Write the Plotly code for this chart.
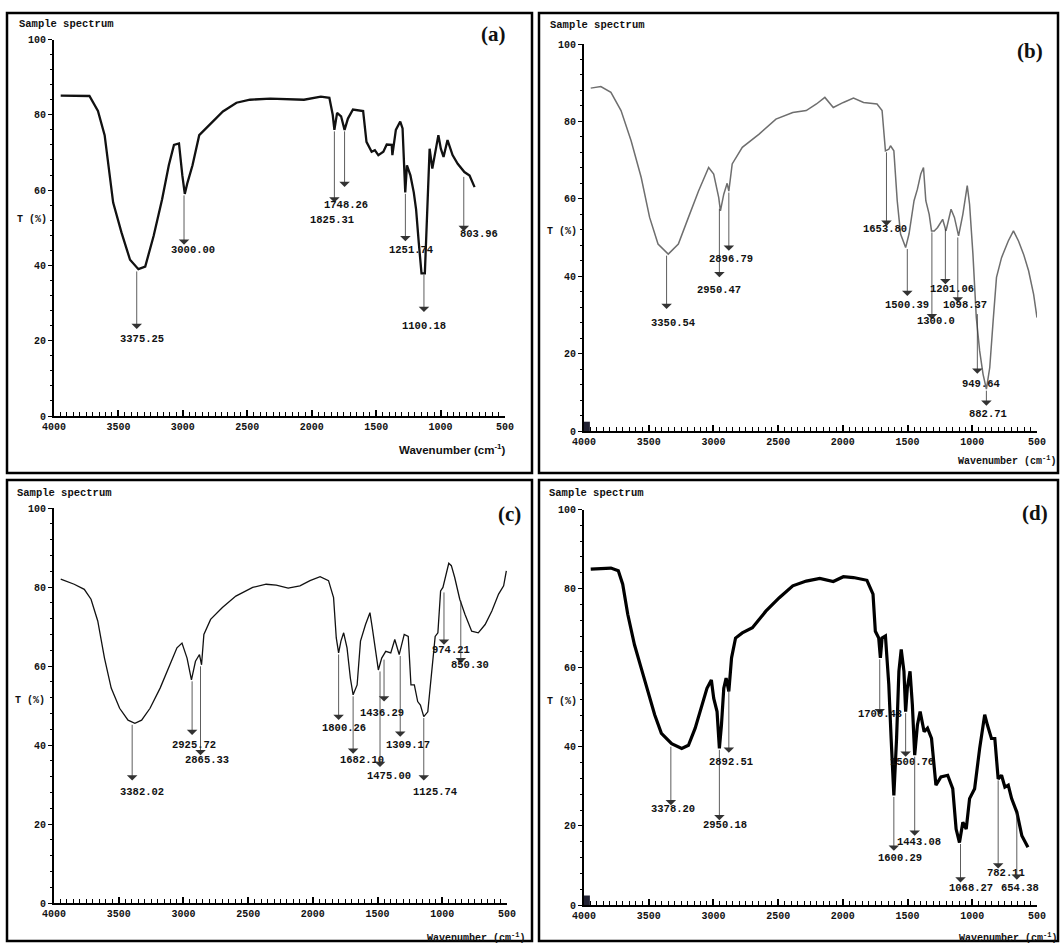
import plotly.graph_objects as go

W, H = 1060, 943

# ---------------- data ----------------
a_wn = [3948,3725,3659,3607,3541,3476,3410,3345,3292,3227,3161,3109,3069,3030,3004,2985,2964,2925,2873,2794,
        2689,2584,2479,2322,2060,1929,1863,1837,1824,1803,1772,1745,1719,1680,1601,1575,1535,1510,1483,1444,
        1418,1379,1374,1347,1313,1295,1274,1261,1234,1208,1190,1169,1148,1122,1103,1085,1064,1038,1017,998,
        977,946,907,867,815,775,736]
a_T = [85.1,85,81,74.6,56.7,48.7,41.5,39.0,39.7,47.8,57.6,66.6,72,72.4,63.9,59,62,66.6,74.6,77.3,
       80.9,83.2,84,84.3,84,84.8,84.5,80,76,80.5,79.6,76,79,81.4,81,72.8,70.2,70.6,69.3,70.2,
       72.1,72,69.3,76,78.2,76.4,59.4,66.6,63.9,59.4,54.9,46,37.9,37.9,56.7,71,65.7,71,74.6,71,
       68.8,73.3,69.3,67,64.8,63.9,60.8]

b_wn = [3948,3870,3792,3714,3636,3558,3493,3428,3349,3271,3193,3115,3037,2998,2959,2946,2920,2894,2881,2855,
        2777,2647,2517,2387,2283,2204,2139,2074,1996,1918,1840,1736,1697,1671,1645,1632,1606,1580,1554,1515,
        1489,1450,1424,1398,1377,1359,1333,1315,1294,1268,1229,1203,1164,1138,1106,1073,1039,1021,995,969,
        943,917,891,865,839,813,774,722,682,643,604,565,526,500]
b_T = [88.6,89,87.5,82.8,75,65.5,55.2,48.3,45.7,48.3,55.2,62,68.1,66.4,60.3,56.9,61.2,64,62,69,
       73.3,76.7,80.6,82.3,82.8,84.5,86.2,83.6,84.9,86,84.9,84.5,82.8,72.4,72.8,73.7,72.4,59.5,50.9,47.4,
       50.9,59.5,62.5,66.4,68.1,59.5,56,51.7,51.7,52.6,54.7,51.7,57.3,55.2,50.4,56,63.4,58.6,45.7,29.3,
       20.7,14.7,10.8,16.4,28.4,39.7,44.8,49.1,51.7,49.1,45.7,41.4,35.3,29.3]

c_wn = [3948,3844,3766,3714,3662,3610,3558,3493,3428,3375,3323,3258,3180,3115,3050,3011,2972,2938,2907,2876,
        2860,2842,2790,2699,2595,2465,2361,2283,2191,2100,2022,1944,1879,1840,1819,1801,1783,1762,1736,1710,
        1689,1658,1632,1593,1559,1541,1515,1494,1468,1437,1398,1367,1333,1294,1263,1242,1216,1190,1169,1143,
        1112,1073,1055,1034,1013,995,977,950,930,904,865,825,773,722,669,617,565,526,505]
c_T = [82,80.7,79.4,76.9,71.4,62,54.4,49.3,46.3,45.5,46.3,49.3,54.4,59.5,64.6,65.8,62,56.5,61.2,62.9,
       60.3,68,71.8,74.8,77.7,79.9,80.7,80.5,79.7,80.3,81.6,82.6,81.6,77.3,67.1,63.3,66.3,68.4,64.6,56.9,
       52.7,55.2,66.3,70.5,73.5,69.7,63.7,59,62,63.7,63.3,66.7,62.9,68,67.5,55.2,55.2,51,50.1,47.2,
       48.4,60.3,67.5,68.4,79,79.9,82.4,86,85.4,82.4,76.9,73.1,68.8,68.4,70.5,73.9,78.2,80.3,84.1]

d_wn = [3948,3792,3735,3701,3662,3610,3558,3506,3454,3402,3323,3245,3193,3141,3089,3050,3016,2998,2972,2954,
        2938,2920,2902,2881,2860,2829,2777,2699,2595,2491,2387,2283,2178,2074,1996,1918,1814,1767,1749,1723,
        1710,1697,1671,1645,1627,1606,1585,1567,1549,1528,1515,1502,1481,1463,1445,1424,1403,1372,1346,1315,
        1281,1242,1190,1151,1125,1099,1073,1047,1021,982,943,904,883,852,826,800,774,748,722,696,
        656,617,570]
d_T = [84.9,85.2,84.5,81.1,73.5,65.8,59.9,54,48.1,43.4,40.8,39.6,40.4,44.7,50.6,54.8,56.9,52.3,48.9,39.6,
       45.5,54.8,57.4,54,62.5,67.5,68.8,70.1,74.3,77.7,80.7,81.9,82.6,81.8,83,82.8,82.1,78.6,69.2,67.5,
       62.5,67.5,68,55.7,42.1,27.7,42.1,59.1,64.6,59.1,48.9,54.8,59.1,50.6,37.9,45.5,48.9,43.8,44.7,42.1,
       30.3,32.4,32.8,29.4,19.2,15.8,20.9,19.2,26.9,29.4,39.6,48.1,45.5,42.1,42.1,31.9,32.8,29.8,30.3,26.9,
       23.5,17.5,14.6]

# peak labels: text, arrow wavenumber, arrow tail T (on curve), arrow head T, label wavenumber, label T
a_lab = ["3375.25","3000.00","1825.31","1748.26","1251.74","1100.18","803.96"]
a_arx = [3358, 2991, 1824, 1745, 1273, 1129, 820]
a_tail = [38.8, 59, 76, 76, 59.4, 37.9, 63.9]
a_head = [23.1, 45.5, 56.7, 60.8, 46.4, 27.6, 49.1]
a_lx = [3318, 2920, 1842, 1732, 1229, 1129, 702]
a_ly = [20.4, 44, 52, 56, 44, 24, 48.4]

b_lab = ["3350.54","2950.47","2896.79","1653.80","1500.39","1300.0","1201.06","1098.37","949.64","882.71"]
b_arx = [3362, 2954, 2881, 1663, 1502, 1312, 1208, 1112, 961, 891]
b_tail = [45.7, 57.8, 62, 72.4, 47.4, 51.7, 52.6, 50.4, 30.6, 10.8]
b_head = [31.5, 39.7, 46.6, 53, 34.9, 28.9, 37.9, 33.2, 14.8, 6.5]
b_lx = [3310, 2954, 2863, 1671, 1502, 1281, 1156, 1060, 929, 877]
b_ly = [28, 36.4, 44.4, 52.3, 32.6, 28.3, 36.6, 32.6, 12.2, 4.3]

c_lab = ["3382.02","2925.72","2865.33","1800.26","1682.10","1475.00","1436.29","1309.17","1125.74","974.21","850.30"]
c_arx = [3396, 2933, 2868, 1801, 1689, 1481, 1450, 1325, 1143, 987, 857]
c_tail = [45.5, 56.5, 60.3, 63.3, 52.7, 59, 62, 62.9, 47.2, 79, 76.9]
c_head = [31, 42.5, 37.4, 46.3, 37.8, 34.4, 51, 42.1, 31, 65.4, 60.7]
c_lx = [3323, 2920, 2821, 1762, 1619, 1411, 1463, 1263, 1060, 930, 787]
c_ly = [28.2, 40, 36.1, 44.2, 36.1, 32.1, 48, 40, 28.2, 64, 60.2]

d_lab = ["3378.20","2950.18","2892.51","1700.43","1600.29","1500.76","1443.08","1068.27","782.11","654.38"]
d_arx = [3329, 2954, 2881, 1715, 1606, 1515, 1445, 1091, 800, 656]
d_tail = [40.4, 39.6, 54.8, 62.5, 27.7, 48.9, 37.9, 15.8, 31.9, 23.5]
d_head = [25.2, 21.4, 38.5, 48.2, 13.7, 37.5, 17.5, 5.7, 9.2, 6.4]
d_lx = [3310, 2912, 2863, 1710, 1559, 1463, 1411, 1007, 740, 630]
d_ly = [24.2, 20.3, 36.2, 48.2, 12, 36.2, 16, 4.2, 8.2, 4.2]

panel_tags = ["(a)", "(b)", "(c)", "(d)"]
x_ticks = [4000, 3500, 3000, 2500, 2000, 1500, 1000, 500]
y_ticks = [0, 20, 40, 60, 80, 100]

# ---------------- layout geometry (pixels) ----------------
def fx(px):
    return px / W

def fy(py):
    return 1 - py / H

panels = [
    dict(wn=a_wn, T=a_T, color="#111111", lw=2.3, lab=a_lab, arx=a_arx, tail=a_tail, head=a_head, lx=a_lx, ly=a_ly,
         xd=[fx(54), fx(505)], yd=[fy(416), fy(39.5)], frame=(7, 13, 532, 473),
         title=(17, 24), tlab=(15, 220), tag=(493, 34), wnl=(508, 449), narrow=True, square=False),
    dict(wn=b_wn, T=b_T, color="#6e6e6e", lw=1.5, lab=b_lab, arx=b_arx, tail=b_tail, head=b_head, lx=b_lx, ly=b_ly,
         xd=[fx(584), fx(1037)], yd=[fy(431), fy(44)], frame=(539, 13, 1058, 473),
         title=(548, 25), tlab=(545, 231), tag=(1030, 51), wnl=(1058, 460), narrow=False, square=True),
    dict(wn=c_wn, T=c_T, color="#111111", lw=1.3, lab=c_lab, arx=c_arx, tail=c_tail, head=c_head, lx=c_lx, ly=c_ly,
         xd=[fx(54), fx(507)], yd=[fy(903), fy(508)], frame=(7, 480, 532, 941),
         title=(15, 493), tlab=(13, 700), tag=(509, 514), wnl=(527, 937), narrow=False, square=False),
    dict(wn=d_wn, T=d_T, color="#000000", lw=3.2, lab=d_lab, arx=d_arx, tail=d_tail, head=d_head, lx=d_lx, ly=d_ly,
         xd=[fx(584), fx(1037)], yd=[fy(905), fy(509.5)], frame=(539, 480, 1058, 941),
         title=(547, 493), tlab=(545, 701), tag=(1035, 513), wnl=(1059, 937), narrow=False, square=True),
]

MONO = "Liberation Mono, Courier New, monospace"
tickfont = dict(family=MONO, size=10, color="#111111", weight="bold")
labfont = dict(family=MONO, size=10.5, color="#111111", weight="bold")

fig = go.Figure()
layout = dict(width=W, height=H, autosize=False, margin=dict(l=0, r=0, t=0, b=0, pad=0, autoexpand=False),
              template="none", paper_bgcolor="white", plot_bgcolor="white", showlegend=False)
annotations = []
shapes = []

for i, p in enumerate(panels):
    n = "" if i == 0 else str(i + 1)
    xr, yr = "x" + n, "y" + n
    fig.add_trace(go.Scatter(x=p["wn"], y=p["T"], mode="lines", xaxis=xr, yaxis=yr,
                             line=dict(color=p["color"], width=p["lw"]), hoverinfo="skip"))
    layout["xaxis" + n] = dict(domain=p["xd"], anchor=yr, range=[4000, 500], tickmode="array",
                               tickvals=x_ticks, ticktext=[str(v) for v in x_ticks], automargin=False,
                               showline=True, linecolor="black", linewidth=2, mirror=False,
                               ticks="inside", ticklen=6, tickwidth=1.5, tickcolor="black",
                               minor=dict(tickmode="linear", tick0=500, dtick=50, ticks="inside",
                                          ticklen=4, tickwidth=1, tickcolor="black", showgrid=False),
                               showgrid=False, zeroline=False, tickfont=tickfont, fixedrange=True)
    layout["yaxis" + n] = dict(domain=p["yd"], anchor=xr, range=[0, 100], tickmode="array",
                               tickvals=y_ticks, ticktext=[str(v) for v in y_ticks], automargin=False,
                               showline=True, linecolor="black", linewidth=1.8,
                               ticks="outside", ticklen=4, tickwidth=1.2, tickcolor="black",
                               minor=dict(tickmode="linear", tick0=0, dtick=4, ticks="outside",
                                          ticklen=2.5, tickwidth=1, tickcolor="black", showgrid=False),
                               showgrid=False, zeroline=False, tickfont=tickfont, fixedrange=True)
    # peak arrows and labels
    for k in range(len(p["lab"])):
        annotations.append(dict(x=p["arx"][k], y=p["head"][k], ax=p["arx"][k], ay=p["tail"][k],
                                xref=xr, yref=yr, axref=xr, ayref=yr, text="", showarrow=True,
                                arrowhead=1, arrowsize=2.2, arrowwidth=0.8, arrowcolor="#333333",
                                standoff=0, startstandoff=0))
        annotations.append(dict(x=p["lx"][k], y=p["ly"][k], xref=xr, yref=yr, text=p["lab"][k],
                                showarrow=False, xanchor="center", yanchor="middle", font=labfont))
    # panel texts
    annotations.append(dict(x=fx(p["title"][0]), y=fy(p["title"][1]), xref="paper", yref="paper",
                            text="Sample spectrum", showarrow=False, xanchor="left", yanchor="middle",
                            font=dict(family=MONO, size=10.5, color="#111111", weight="bold")))
    annotations.append(dict(x=fx(p["tlab"][0]), y=fy(p["tlab"][1]), xref="paper", yref="paper",
                            text="T (%)", showarrow=False, xanchor="left", yanchor="middle",
                            font=dict(family=MONO, size=10, color="#111111", weight="bold")))
    annotations.append(dict(x=fx(p["tag"][0]), y=fy(p["tag"][1]), xref="paper", yref="paper",
                            text=panel_tags[i], showarrow=False, xanchor="center", yanchor="middle",
                            font=dict(family="Liberation Serif, Times New Roman, serif", size=21,
                                      color="#111111", weight="bold")))
    if p["narrow"]:
        wfont = dict(family="Liberation Sans Narrow, Arial Narrow, Liberation Sans, sans-serif", size=11.5,
                     color="#111111", weight="bold")
    else:
        wfont = dict(family=MONO, size=10, color="#111111", weight="bold")
    annotations.append(dict(x=fx(p["wnl"][0]), y=fy(p["wnl"][1]), xref="paper", yref="paper",
                            text="Wavenumber (cm<sup>-1</sup>)", showarrow=False, xanchor="right",
                            yanchor="middle", font=wfont))
    # frame
    x0, y0, x1, y1 = p["frame"]
    shapes.append(dict(type="rect", xref="paper", yref="paper", x0=fx(x0), x1=fx(x1), y0=fy(y1), y1=fy(y0),
                       line=dict(color="black", width=2.5), fillcolor="rgba(0,0,0,0)"))
    if p["square"]:
        shapes.append(dict(type="rect", xref=xr + " domain", yref=yr + " domain", x0=0, x1=0.013, y0=0, y1=0.024,
                           line=dict(width=0), fillcolor="#222233"))

layout["annotations"] = annotations
layout["shapes"] = shapes
fig.update_layout(**layout)
fig.write_html("out.html", config={"displayModeBar": False, "responsive": False},
               post_script="document.body.style.margin='0px';document.body.style.padding='0px';"
                           "document.documentElement.style.overflow='hidden';")
